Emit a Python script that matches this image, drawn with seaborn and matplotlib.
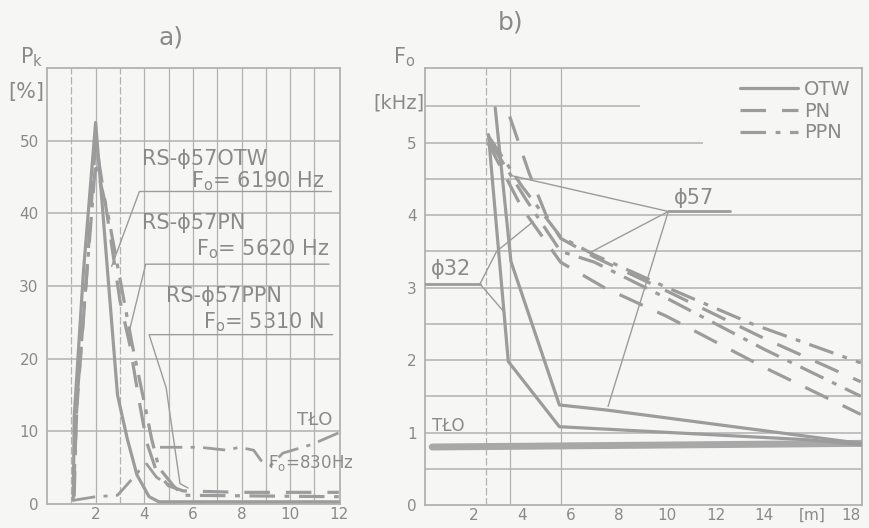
import numpy as np
import matplotlib
matplotlib.use("Agg")
import matplotlib.pyplot as plt
from matplotlib.lines import Line2D
import seaborn as sns

# --- panel a) : P_k [%] vs distance ---
a_otw_x = [1.08, 1.12, 1.5, 2.0, 2.9, 3.3, 3.7, 4.2, 4.6, 12.0]
a_otw_y = [0.5, 12, 32, 52.5, 15, 9, 4, 1.0, 0.3, 0.3]
a_pn_x = [1.12, 1.2, 1.6, 2.0, 2.6, 3.0, 3.4, 3.8, 4.1, 4.5, 5.0, 5.6, 8.0, 12.0]
a_pn_y = [1.0, 12, 30, 50, 37, 28, 22, 14, 8.5, 4.5, 2.5, 1.8, 1.6, 1.6]
a_ppn_x = [1.1, 1.25, 1.6, 2.0, 2.5, 3.0, 3.5, 4.0, 4.3, 4.6, 5.2, 5.6, 12.0]
a_ppn_y = [2.0, 15, 30, 47, 40, 31, 22, 14, 9, 5, 2.5, 1.2, 1.0]
a_low_x = [1.08, 2.0, 2.9, 3.2, 3.8, 4.1, 4.5, 4.9, 5.2]
a_low_y = [0.5, 1.0, 1.2, 2.3, 4.6, 5.5, 3.7, 2.8, 2.3]
a_tlo_x = [4.65, 6.3, 7.4, 7.9, 8.5, 8.8, 9.2, 9.7, 10.9, 12.0]
a_tlo_y = [7.8, 7.8, 7.4, 7.8, 7.4, 6.0, 5.3, 7.0, 8.2, 9.8]

# --- panel b) : F_o [kHz] vs distance ---
b_otw1_x = [2.9, 3.55, 5.55, 7.5, 18.0]
b_otw1_y = [5.48, 3.36, 1.38, 1.31, 0.85]
b_otw2_x = [2.62, 3.44, 5.55, 15.8, 18.0]
b_otw2_y = [5.11, 1.98, 1.08, 0.90, 0.83]
b_tlo_x = [0.3, 18.0]
b_tlo_y = [0.80, 0.85]
b_ppn1_x = [2.6, 4.0, 5.6, 7.0, 10.0, 13.5, 18.0]
b_ppn1_y = [5.1, 4.4, 3.7, 3.45, 3.0, 2.5, 1.96]
b_pn1_x = [3.5, 4.3, 5.0, 5.6, 7.0, 10.0, 14.0, 18.0]
b_pn1_y = [5.36, 4.58, 4.0, 3.68, 3.42, 2.95, 2.3, 1.7]
b_ppn2_x = [2.7, 4.2, 5.6, 7.0, 10.0, 14.0, 18.0]
b_ppn2_y = [5.0, 4.2, 3.5, 3.35, 2.85, 2.15, 1.5]
b_pn2_x = [2.6, 4.0, 5.6, 7.4, 10.0, 14.0, 18.0]
b_pn2_y = [5.0, 4.1, 3.35, 3.0, 2.6, 1.9, 1.25]

a_xticks = [2, 4, 6, 8, 10, 12]
a_yticks = [0, 10, 20, 30, 40, 50]
b_xticks = [2, 4, 6, 8, 10, 12, 14, 16, 18]
b_xlabels = ["2", "4", "6", "8", "10", "12", "14", "[m]", "18"]
b_yticks = [0, 1, 2, 3, 4, 5]

BG = "#f6f6f4"
LINE = "#9c9c9c"
GRID = "#b2b2b2"
TXT = "#8a8a8a"
DASH = (0, (8, 5))
DASHDOT = (0, (8, 3, 1.5, 3))

sns.set_style("white")
plt.rcParams["font.family"] = ["DejaVu Sans"]

fig = plt.figure(figsize=(8.7, 5.28), dpi=100, facecolor=BG)
ax1 = fig.add_axes([0.0540, 0.0455, 0.3368, 0.8258], facecolor=BG)
ax2 = fig.add_axes([0.4885, 0.0436, 0.5023, 0.8277], facecolor=BG)


def draw(ax, x, y, ls="-", lw=2.3, color=LINE, z=3):
    sns.lineplot(x=x, y=y, ax=ax, sort=False, estimator=None, color=color,
                 linestyle=ls, lw=lw, zorder=z)


for ax in (ax1, ax2):
    for s in ax.spines.values():
        s.set_color(GRID)
        s.set_linewidth(1.3)
    ax.tick_params(colors=TXT, labelsize=11, length=0)
    ax.tick_params(axis="x", pad=2)
    ax.tick_params(axis="y", pad=6)

# ---------- a) ----------
ax1.set_xlim(0, 12.05)
ax1.set_ylim(0, 60)
for v in range(1, 12):
    ax1.axvline(v, color=GRID, lw=0.9, ls=(0, (6, 2)) if v in (1, 3) else "-", zorder=1)
for h in a_yticks[1:]:
    ax1.axhline(h, color=GRID, lw=1.1, zorder=1)

draw(ax1, a_otw_x, a_otw_y)
draw(ax1, a_pn_x, a_pn_y, ls=DASH)
draw(ax1, a_ppn_x, a_ppn_y, ls=DASHDOT)
draw(ax1, a_low_x, a_low_y, ls=DASHDOT, lw=2.0)
draw(ax1, a_tlo_x, a_tlo_y, ls=DASHDOT, lw=2.0)

# label underlines and leader lines
draw(ax1, [2.66, 3.8, 11.7], [32.7, 43, 43], lw=1.0)
draw(ax1, [3.4, 4.06, 11.6], [24, 33, 33], lw=1.0)
draw(ax1, [5.8, 5.47, 4.9, 4.2, 11.75], [2.2, 2.8, 16, 23.3, 23.3], lw=1.0)

ax1.text(3.9, 47.5, "RS-ϕ57OTW", color=TXT, fontsize=15, va="center")
ax1.text(11.4, 44.4, r"F$_\mathrm{o}$= 6190 Hz", color=TXT, fontsize=15, va="center", ha="right")
ax1.text(3.9, 38.6, "RS-ϕ57PN", color=TXT, fontsize=15, va="center")
ax1.text(11.6, 35.0, r"F$_\mathrm{o}$= 5620 Hz", color=TXT, fontsize=15, va="center", ha="right")
ax1.text(4.9, 28.6, "RS-ϕ57PPN", color=TXT, fontsize=15, va="center")
ax1.text(11.4, 25.0, r"F$_\mathrm{o}$= 5310 N", color=TXT, fontsize=15, va="center", ha="right")
ax1.text(10.3, 11.5, "TŁO", color=TXT, fontsize=13, va="center")
ax1.text(9.1, 5.7, r"F$_\mathrm{o}$=830Hz", color=TXT, fontsize=12, va="center")

ax1.set_xticks(a_xticks)
ax1.set_yticks(a_yticks)
ax1.set_xlabel("")
ax1.set_ylabel("")
fig.text(0.036, 0.88, r"P$_\mathrm{k}$", color=TXT, fontsize=15, ha="center")
fig.text(0.030, 0.815, "[%]", color=TXT, fontsize=15, ha="center")
fig.text(0.196, 0.915, "a)", color=TXT, fontsize=18, ha="center")

# ---------- b) ----------
ax2.set_xlim(0, 18.05)
ax2.set_ylim(0, 6.03)
for h in [0.5, 1, 1.5, 2, 2.5, 3, 3.5, 4, 4.5]:
    ax2.axhline(h, color=GRID, lw=1.1, zorder=1)
ax2.hlines(5.0, 0, 11.5, color=GRID, lw=1.1, zorder=1)
ax2.hlines(5.5, 0, 8.9, color=GRID, lw=1.1, zorder=1)
ax2.axvline(2.5, color=GRID, lw=0.9, ls=(0, (6, 2)), zorder=1)
ax2.axvline(3.5, color=GRID, lw=0.9, zorder=1)
ax2.axvline(5.6, color=GRID, lw=0.9, zorder=1)

draw(ax2, b_tlo_x, b_tlo_y, lw=5.0, color="#a8a8a8")
draw(ax2, b_otw1_x, b_otw1_y)
draw(ax2, b_otw2_x, b_otw2_y)
draw(ax2, b_ppn1_x, b_ppn1_y, ls=DASHDOT)
draw(ax2, b_pn1_x, b_pn1_y, ls=DASH)
draw(ax2, b_ppn2_x, b_ppn2_y, ls=DASHDOT)
draw(ax2, b_pn2_x, b_pn2_y, ls=DASH)

# phi 32 / phi 57 underlines and leader lines
draw(ax2, [0.0, 2.27], [3.05, 3.05], lw=2.0)
draw(ax2, [4.47, 2.96, 2.27, 3.3], [3.91, 3.5, 3.05, 2.65], lw=1.0)
draw(ax2, [10.05, 12.6], [4.05, 4.05], lw=2.0)
draw(ax2, [3.5, 10.05, 6.8], [4.55, 4.05, 3.48], lw=1.0)
draw(ax2, [10.05, 7.56], [4.05, 1.36], lw=1.0)

ax2.text(0.25, 3.12, "ϕ32", color=TXT, fontsize=15, va="bottom")
ax2.text(10.3, 4.1, "ϕ57", color=TXT, fontsize=15, va="bottom")
ax2.text(0.3, 0.97, "TŁO", color=TXT, fontsize=12, va="bottom")

ax2.set_xticks(b_xticks)
ax2.set_xticklabels(b_xlabels)
ax2.get_xticklabels()[-1].set_horizontalalignment("right")
ax2.set_xticks(range(1, 18), minor=True)
ax2.tick_params(axis="x", which="minor", direction="in", length=4, color=GRID, width=1)
ax2.set_yticks(b_yticks)
ax2.set_xlabel("")
ax2.set_ylabel("")
fig.text(0.465, 0.88, r"F$_\mathrm{o}$", color=TXT, fontsize=15, ha="center")
fig.text(0.458, 0.795, "[kHz]", color=TXT, fontsize=14, ha="center")
fig.text(0.587, 0.945, "b)", color=TXT, fontsize=18, ha="center")

handles = [Line2D([], [], color=LINE, lw=2.3),
           Line2D([], [], color=LINE, lw=2.3, ls=DASH),
           Line2D([], [], color=LINE, lw=2.3, ls=DASHDOT)]
ax2.legend(handles, ["OTW", "PN", "PPN"], loc="upper right", frameon=False,
           handlelength=3.0, handletextpad=0.3, labelspacing=0.15, fontsize=14,
           labelcolor=TXT, borderaxespad=0.2)

fig.savefig("out.png", dpi=100, facecolor=BG)
